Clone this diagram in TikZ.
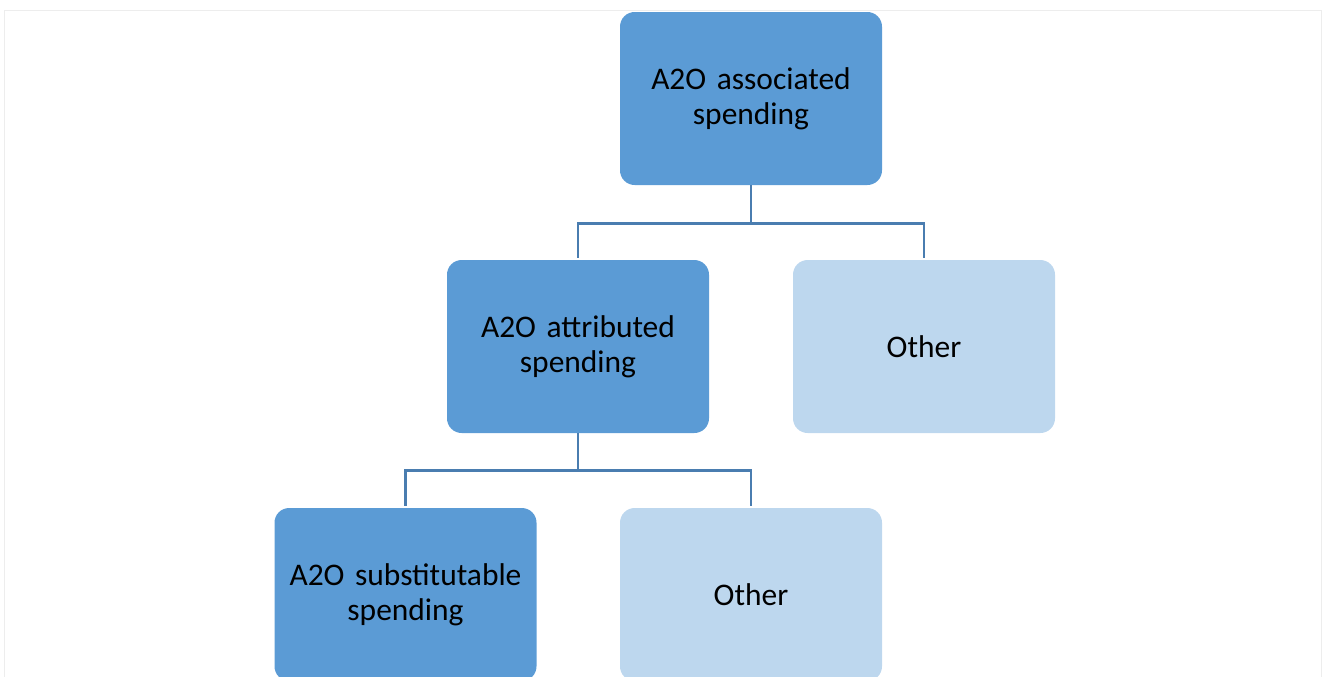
\documentclass[tikz,border=0pt]{standalone}
\usepackage{fontspec}
\setmainfont{Carlito}
\usepackage{xcolor}
\usetikzlibrary{positioning}

\definecolor{darkbox}{HTML}{5B9BD5}
\definecolor{lightbox}{HTML}{BDD7EE}
\definecolor{linkblue}{HTML}{4A7DB0}
\definecolor{framegray}{HTML}{EDEDED}

\begin{document}
\begin{tikzpicture}[x=0.75pt, y=0.75pt,
    box/.style={rectangle, rounded corners=11pt, draw=none, minimum width=196.5pt, minimum height=129.75pt,
        text width=186pt, align=center, font=\fontsize{23.6}{26.2}\selectfont, text=black},
    main/.style={box, fill=darkbox},
    rest/.style={box, fill=lightbox},
    link/.style={draw=linkblue, line width=2pt}]
    \useasboundingbox (0,0) rectangle (1325,-676);
    \draw[framegray, line width=1.2pt] (4.5,-10.5) rectangle (1321.5,-700);
    \node[main] (assoc) at (751,-98.5) {A2O associated\\spending};
    \node[main] (attrib) at (578,-346.5) {A2O attributed\\spending};
    \node[rest] (other1) at (924,-346.5) {Other};
    \node[main] (subst) at (405.5,-594.5) {A2O substitutable\\spending};
    \node[rest] (other2) at (751,-594.5) {Other};
    \draw[link] (assoc.south) -- ++(0,-38) -| ([yshift=1.5pt]attrib.north);
    \draw[link] (assoc.south) -- ++(0,-38) -| ([yshift=1.5pt]other1.north);
    \draw[link] (attrib.south) -- ++(0,-37) -| ([yshift=1.5pt]subst.north);
    \draw[link] (attrib.south) -- ++(0,-37) -| ([yshift=1.5pt]other2.north);
\end{tikzpicture}
\end{document}
